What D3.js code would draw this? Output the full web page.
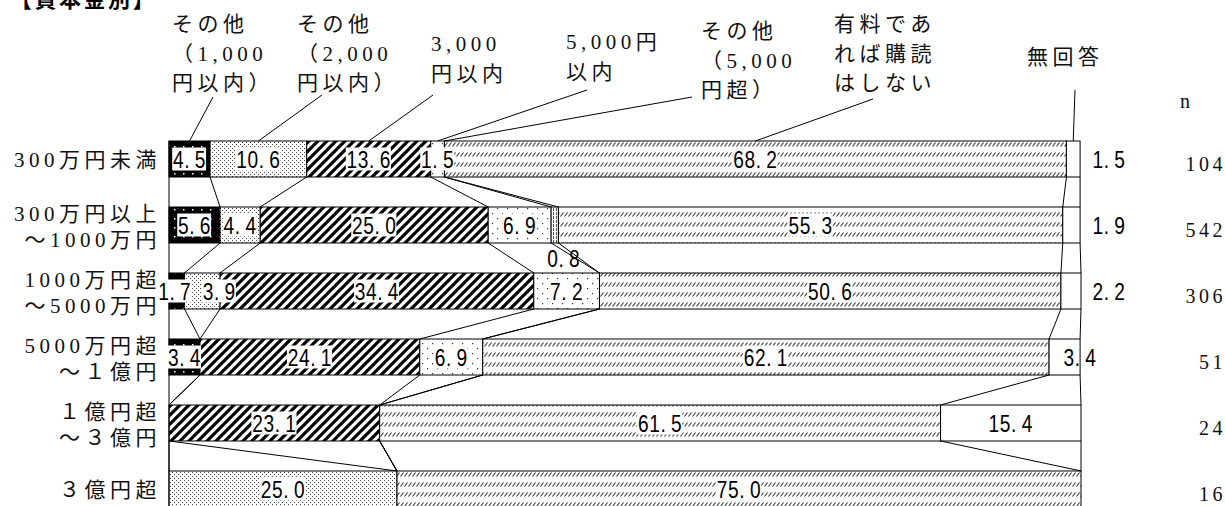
<!DOCTYPE html>
<html>
<head>
<meta charset="utf-8">
<script src="https://cdn.jsdelivr.net/npm/d3@7"></script>
<style>
  body { margin: 0; background: #fff; }
  svg { display: block; }
  .serif { font-family: "Liberation Serif", "Noto Sans CJK JP", serif; }
  .val { font-family: "Liberation Sans", "Noto Sans CJK JP", sans-serif; }
</style>
</head>
<body>
<div id="chart"></div>
<script>
// ---- data ----
const categories = ["300万円未満", "300万円以上～1000万円", "1000万円超～5000万円", "5000万円超～１億円", "１億円超～３億円", "３億円超"];
const categoryLines = [["300万円未満"], ["300万円以上", "～1000万円"], ["1000万円超", "～5000万円"], ["5000万円超", "～１億円"], ["１億円超", "～３億円"], ["３億円超"]];
const seriesNames = ["その他（1,000円以内）", "その他（2,000円以内）", "3,000円以内", "5,000円以内", "その他（5,000円超）", "有料であれば購読はしない", "無回答"];
const legendLines = [["その他", "（1,000", "円以内）"], ["その他", "（2,000", "円以内）"], ["3,000", "円以内"], ["5,000円", "以内"], ["その他", "（5,000", "円超）"], ["有料であ", "れば購読", "はしない"], ["無回答"]];

const under1000     = [4.5, 5.6, 1.7, 3.4, 0, 0];
const under2000     = [10.6, 4.4, 3.9, 0, 0, 25.0];
const under3000     = [13.6, 25.0, 34.4, 24.1, 23.1, 0];
const under5000     = [1.5, 6.9, 7.2, 6.9, 0, 0];
const over5000      = [0, 0.8, 0, 0, 0, 0];
const wontSubscribe = [68.2, 55.3, 50.6, 62.1, 61.5, 75.0];
const noAnswer      = [1.5, 1.9, 2.2, 3.4, 15.4, 0];
const nValues       = [104, 542, 306, 51, 24, 16];

const seriesValues = [under1000, under2000, under3000, under5000, over5000, wontSubscribe, noAnswer];

// ---- layout ----
const width = 1225, height = 506;
const left = 169, right = 1081;

// legend label blocks: text position and leader-line start
const legendLayout = [
  { x: 172,  y: 24, lead: [213, 97] },
  { x: 297,  y: 24, lead: [322, 95] },
  { x: 431,  y: 44, lead: [433, 95] },
  { x: 566,  y: 42, lead: [587, 90] },
  { x: 701,  y: 31, lead: [692, 97] },
  { x: 834,  y: 24, lead: [873, 99] },
  { x: 1027, y: 57, lead: [1075, 90] }
];
const lineGap = 29.5;

const svg = d3.select("#chart")
  .append("svg")
  .attr("width", width)
  .attr("height", height);

const defs = svg.append("defs");

function makePattern(id, w, h, draw) {
  const p = defs.append("pattern")
    .attr("id", id)
    .attr("patternUnits", "userSpaceOnUse")
    .attr("width", w)
    .attr("height", h);
  draw(p);
}

// black with white dots
makePattern("p0", 9, 9, p => {
  p.append("rect").attr("width", 9).attr("height", 9).attr("fill", "#000");
  p.append("rect").attr("x", 3).attr("y", 2).attr("width", 1.5).attr("height", 1.5).attr("fill", "#fff");
});
// dense stipple
makePattern("p1", 4, 4, p => {
  p.append("rect").attr("width", 4).attr("height", 4).attr("fill", "#fff");
  p.append("rect").attr("x", 0).attr("y", 0).attr("width", 1).attr("height", 1).attr("fill", "#444");
  p.append("rect").attr("x", 2).attr("y", 2).attr("width", 1).attr("height", 1).attr("fill", "#444");
});
// thick diagonal hatch
makePattern("p2", 9, 9, p => {
  p.append("rect").attr("width", 9).attr("height", 9).attr("fill", "#fff");
  p.append("path")
    .attr("d", "M-2,2 L2,-2 M0,9 L9,0 M7,11 L11,7")
    .attr("stroke", "#000").attr("stroke-width", 3.2);
});
// sparse dots
makePattern("p3", 10, 10, p => {
  p.append("rect").attr("width", 10).attr("height", 10).attr("fill", "#fff");
  p.append("rect").attr("x", 2).attr("y", 3).attr("width", 1.2).attr("height", 1.2).attr("fill", "#333");
  p.append("rect").attr("x", 7).attr("y", 8).attr("width", 1.2).attr("height", 1.2).attr("fill", "#333");
});
// vertical lines
makePattern("p4", 3, 4, p => {
  p.append("rect").attr("width", 3).attr("height", 4).attr("fill", "#fff");
  p.append("rect").attr("x", 1).attr("y", 0).attr("width", 1).attr("height", 3).attr("fill", "#555");
});
// fine slanted texture in rows
makePattern("p5", 4, 10, p => {
  p.append("rect").attr("width", 4).attr("height", 10).attr("fill", "#fff");
  p.append("path").attr("d", "M0.5,6.5 L3.5,2.5").attr("stroke", "#333").attr("stroke-width", 1.1);
});

const fills = ["url(#p0)", "url(#p1)", "url(#p2)", "url(#p3)", "url(#p4)", "url(#p5)", "#fff"];

const x = d3.scaleLinear().domain([0, 100]).range([left, right]);
const y = d3.scaleBand()
  .domain(categories)
  .range([126, 522])
  .paddingInner(0.4545)
  .paddingOuter(0.2273);
const bw = y.bandwidth();

// stacked rows
const rows = categories.map((c, i) => {
  let acc = 0;
  return seriesValues.map((arr, k) => {
    const v = arr[i];
    const seg = { cat: c, row: i, k, value: v, x0: acc, x1: acc + v };
    acc += v;
    return seg;
  });
});

// title
svg.append("text")
  .attr("x", 10)
  .attr("y", 7)
  .attr("font-family", "'Noto Sans CJK JP', sans-serif")
  .attr("font-weight", "bold")
  .attr("font-size", 22)
  .attr("letter-spacing", 2.5)
  .text("【資本金別】");

// bars
const barG = svg.append("g");
rows.forEach(r => {
  barG.selectAll(null)
    .data(r.filter(d => d.value > 0))
    .enter()
    .append("rect")
    .attr("x", d => x(d.x0))
    .attr("y", d => y(d.cat))
    .attr("width", d => x(d.x1) - x(d.x0))
    .attr("height", bw)
    .attr("fill", d => fills[d.k])
    .attr("stroke", "#000")
    .attr("stroke-width", 1);
});

// connectors between rows
const lineG = svg.append("g").attr("stroke", "#000").attr("stroke-width", 1);
for (let i = 0; i < rows.length - 1; i++) {
  rows[i].forEach((d, k) => {
    const nx = rows[i + 1][k];
    lineG.append("line")
      .attr("x1", x(d.x1)).attr("y1", y(d.cat) + bw)
      .attr("x2", x(nx.x1)).attr("y2", y(nx.cat));
  });
}
// category axis line
lineG.append("line")
  .attr("x1", left).attr("x2", left)
  .attr("y1", y(categories[0]))
  .attr("y2", y(categories[categories.length - 1]) + bw);

// leader lines from legend labels to first row
rows[0].forEach((d, k) => {
  const L = legendLayout[k];
  lineG.append("line")
    .attr("x1", L.lead[0]).attr("y1", L.lead[1])
    .attr("x2", x((d.x0 + d.x1) / 2)).attr("y2", y(d.cat));
});

// legend labels
legendLines.forEach((lines, k) => {
  const L = legendLayout[k];
  const t = svg.append("text")
    .attr("class", "serif")
    .attr("font-size", 21)
    .attr("letter-spacing", 4.5)
    .attr("fill", "#111");
  lines.forEach((s, j) => {
    t.append("tspan")
      .attr("x", L.x)
      .attr("y", L.y + j * lineGap)
      .attr("dominant-baseline", "central")
      .text(s);
  });
});

// category labels
categoryLines.forEach((lines, i) => {
  const cy = y(categories[i]) + bw / 2;
  const offs = lines.length === 1 ? [1] : [-11, 15];
  lines.forEach((s, j) => {
    svg.append("text")
      .attr("class", "serif")
      .attr("x", 161)
      .attr("y", cy + offs[j])
      .attr("text-anchor", "end")
      .attr("dominant-baseline", "central")
      .attr("font-size", 21)
      .attr("letter-spacing", 4.5)
      .attr("fill", "#111")
      .text(s);
  });
});

// n header and values
svg.append("text")
  .attr("class", "serif")
  .attr("x", 1180).attr("y", 101)
  .attr("dominant-baseline", "central")
  .attr("font-size", 20)
  .attr("fill", "#111")
  .text("n");

svg.selectAll(null)
  .data(nValues)
  .enter()
  .append("text")
  .attr("class", "serif")
  .attr("x", 1226)
  .attr("y", (d, i) => y(categories[i]) + bw / 2 + 5)
  .attr("text-anchor", "end")
  .attr("dominant-baseline", "central")
  .attr("font-size", 20)
  .attr("letter-spacing", 3.5)
  .attr("fill", "#111")
  .text(d => d);

// value labels
function labelPos(d) {
  const cx = x((d.x0 + d.x1) / 2);
  const cy = y(d.cat) + bw / 2;
  if (d.k === 6 && d.value < 3) return { x: x(100) + 28, y: cy, bg: false };
  if (d.k === 6 && d.value < 5) return { x: x(100) - 1, y: cy, bg: false };
  if (d.k === 4) return { x: cx + 9, y: y(d.cat) + bw + 15, bg: false };
  if (d.row === 2 && d.k === 1) return { x: cx + 17, y: cy, bg: true };
  if (d.row === 2 && d.k === 0) return { x: cx - 2, y: cy, bg: true };
  return { x: cx, y: cy, bg: true };
}

const valG = svg.append("g");
rows.forEach(r => {
  r.filter(d => d.value > 0).forEach(d => {
    const p = labelPos(d);
    const parts = d.value.toFixed(1).split(".");
    const g = valG.append("g")
      .attr("transform", `translate(${p.x},${p.y}) scale(0.78,1)`);
    const t = g.append("text")
      .attr("class", "val")
      .attr("text-anchor", "middle")
      .attr("dominant-baseline", "central")
      .attr("font-size", 24.5)
      .attr("letter-spacing", 0.8)
      .attr("fill", "#000");
    t.append("tspan").text(parts[0] + ".");
    t.append("tspan").attr("dx", 6).text(parts[1]);
    if (p.bg) {
      const b = t.node().getBBox();
      g.insert("rect", "text")
        .attr("x", b.x - 1)
        .attr("y", -11.5)
        .attr("width", b.width + 1)
        .attr("height", 23)
        .attr("fill", "#fff");
    }
  });
});
</script>
</body>
</html>
